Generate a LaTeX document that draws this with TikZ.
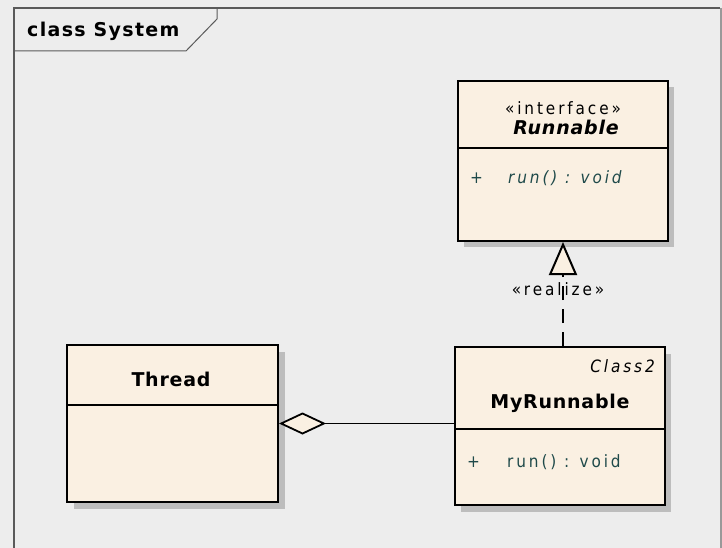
\documentclass[tikz,border=0pt]{standalone}
\usepackage{fontspec}
\setmainfont{DejaVu Sans}
\newfontfamily\regfont[LetterSpace=17]{DejaVu Sans Condensed}
\newfontfamily\headfont[LetterSpace=4]{DejaVu Sans}
\newfontfamily\titlefont[LetterSpace=7]{DejaVu Sans}
\usetikzlibrary{arrows.meta}
\definecolor{bg}{HTML}{EDEDED}
\definecolor{cream}{HTML}{FAF0E2}
\definecolor{shadowgray}{HTML}{BDBDBD}
\definecolor{framegray}{HTML}{5A5A5A}
\definecolor{member}{HTML}{1F4A4A}
\tikzset{
  classbox/.style={draw=black, line width=2pt, fill=cream, rectangle, inner sep=0pt, anchor=north west},
  shadowbox/.style={fill=shadowgray, draw=none, rectangle, inner sep=0pt, anchor=north west},
  sepline/.style={draw=black, line width=2pt},
  headtxt/.style={font=\headfont\bfseries\fontsize{19}{22}\selectfont, inner sep=0pt, anchor=base},
  regtxt/.style={font=\regfont\fontsize{17}{20}\selectfont, inner sep=0pt},
  membertxt/.style={regtxt, text=member, anchor=base west},
  aggr/.style={draw=black, line width=1.8pt, {Diamond[length=47pt,width=22pt,fill=cream]}-},
  realizeline/.style={draw=black, line width=2pt, dash pattern=on 14pt off 9pt, -{Triangle[length=33pt,width=28pt,fill=cream]}}
}
\begin{document}
\begin{tikzpicture}[x=1pt,y=-1pt]
\fill[bg] (0,0) rectangle (722,548);
\useasboundingbox (0,0) rectangle (722,548);
% frame
\draw[framegray, line width=1.2pt] (14,560) -- (14,8) -- (720,8);
\draw[black!40, line width=2pt] (721,8) -- (721,560);
\draw[framegray, line width=1pt] (14,51) -- (186,51) -- (217,19) -- (217,8);
\node[font=\titlefont\bfseries\fontsize{19}{22}\selectfont, inner sep=0pt, anchor=base west] (title) at (27,37) {class System};

% Runnable
\node[shadowbox, minimum width=210pt, minimum height=160pt] (runsh) at (464,87) {};
\node[classbox, minimum width=210pt, minimum height=160pt] (runnable) at (457,80) {};
\draw[sepline] (457,148) -- (667,148);
\node[regtxt, anchor=base] (rst) at (563,115) {«interface»};
\node[headtxt, font=\headfont\bfseries\itshape\fontsize{19}{22}\selectfont] (rname) at (566,135) {Runnable};
\node[membertxt] (rplus) at (470,183) {+};
\node[membertxt, font=\regfont\itshape\fontsize{17}{20}\selectfont] (rop) at (508,183) {run() : void};

% MyRunnable
\node[shadowbox, minimum width=210pt, minimum height=158pt] (mysh) at (461,354) {};
\node[classbox, minimum width=210pt, minimum height=158pt] (myr) at (454,346) {};
\draw[sepline] (454,429) -- (664,429);
\node[regtxt, anchor=base east, font=\regfont\itshape\fontsize{17}{20}\selectfont] (cls2) at (655,372) {Class2};
\node[headtxt] (mname) at (560,408) {MyRunnable};
\node[membertxt] (mplus) at (467,467) {+};
\node[membertxt] (mop) at (507,467) {run() : void};

% Thread
\node[shadowbox, minimum width=211pt, minimum height=157pt] (thsh) at (74,352) {};
\node[classbox, minimum width=211pt, minimum height=157pt] (thread) at (66,344) {};
\draw[sepline] (66,405) -- (277,405);
\node[headtxt] (tname) at (171,386) {Thread};

% connectors
\draw[aggr] (thread.east) -- (thread.east -| myr.west);
\draw[realizeline] (runnable.south |- myr.north) -- (runnable.south);
\node[regtxt, anchor=base, text=black] (rlz) at (558,295) {«realize»};
\end{tikzpicture}
\end{document}
